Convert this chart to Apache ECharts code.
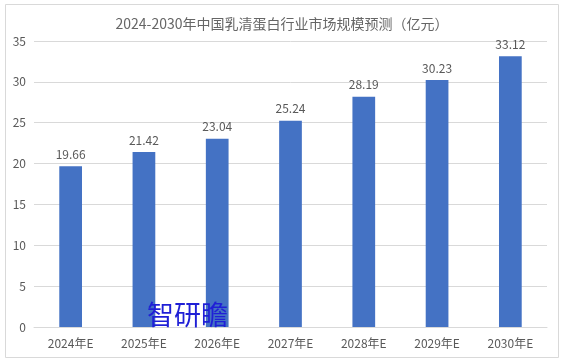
<!DOCTYPE html>
<html><head><meta charset="utf-8">
<script src="https://cdn.jsdelivr.net/npm/echarts@6/dist/echarts.min.js"></script>
<style>html,body{margin:0;padding:0;background:#fff}#c{width:564px;height:362px}</style>
</head><body><div id="c"></div>
<script>
const categories = ['2024年E','2025年E','2026年E','2027年E','2028年E','2029年E','2030年E'];
const values = [19.66, 21.42, 23.04, 25.24, 28.19, 30.23, 33.12];
const titleText = '2024-2030年中国乳清蛋白行业市场规模预测（亿元）';
const watermark = '智研瞻';
const chart = echarts.init(document.getElementById('c'));
chart.setOption({
  animation: false,
  backgroundColor: '#fff',
  title: {text: titleText, left: 'center', top: 12, textStyle: {fontSize: 14, fontWeight: 'normal', color: '#666666', fontFamily: 'Noto Sans CJK SC'}},
  grid: {left: 34, right: 17, top: 41, bottom: 35},
  xAxis: {type: 'category', data: categories, axisTick: {show: false},
    axisLine: {lineStyle: {color: '#d9d9d9'}},
    axisLabel: {color: '#595959', fontSize: 12, margin: 10, fontFamily: 'Noto Sans CJK SC'}},
  yAxis: {type: 'value', min: 0, max: 35, interval: 5,
    axisLine: {show: false}, axisTick: {show: false},
    splitLine: {lineStyle: {color: '#d9d9d9'}},
    axisLabel: {color: '#595959', fontSize: 12, margin: 8, fontFamily: 'Noto Sans CJK SC'}},
  series: [{type: 'bar', data: values, barWidth: '31%', itemStyle: {color: '#4472C4'},
    label: {show: true, position: 'top', color: '#595959', fontSize: 12, distance: 6, fontFamily: 'Noto Sans CJK SC'}}],
  graphic: [
    {type: 'rect', shape: {x: 5.5, y: 4.5, width: 553, height: 353}, style: {fill: 'none', stroke: '#d9d9d9', lineWidth: 1}, z: -1},
    {type: 'text', left: 147, top: 301, style: {text: watermark, fill: '#1f1fd6', font: '27px "Noto Sans CJK SC"'}, z: 100}
  ]
});
</script></body></html>
